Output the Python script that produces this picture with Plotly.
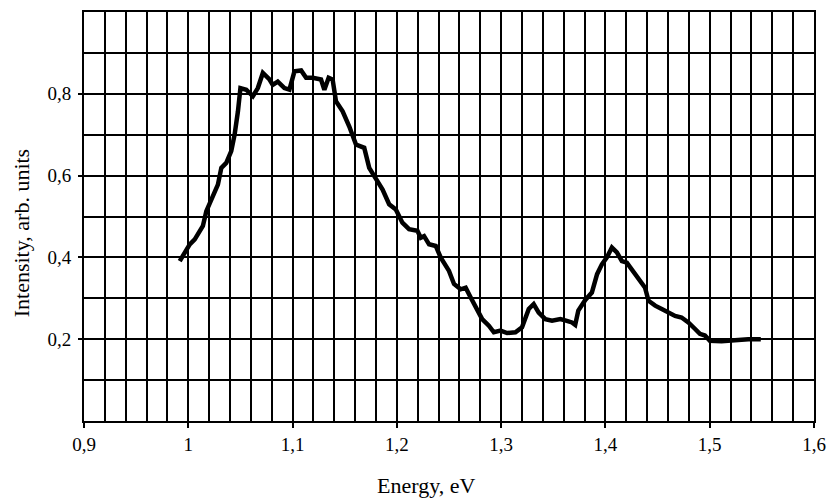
import plotly.graph_objects as go

energy = [0.9918, 1.0014, 1.0062, 1.014, 1.0173, 1.0237, 1.0284, 1.0317, 1.0364, 1.0412,
          1.0444, 1.0476, 1.050, 1.0556, 1.0619, 1.0667, 1.0715, 1.0779, 1.081, 1.0858,
          1.0922, 1.097, 1.1018, 1.1082, 1.113, 1.1193, 1.1273, 1.1305, 1.1346, 1.1384,
          1.1416, 1.148, 1.1544, 1.1608, 1.1687, 1.1735, 1.1799, 1.1863, 1.1926, 1.199,
          1.2053, 1.2117, 1.2197, 1.2229, 1.2261, 1.2309, 1.2373, 1.242, 1.25, 1.2548,
          1.2612, 1.266, 1.2708, 1.277, 1.2818, 1.2882, 1.293, 1.2994, 1.3057, 1.3137,
          1.32, 1.3265, 1.3312, 1.336, 1.3424, 1.3488, 1.3568, 1.363, 1.3679, 1.371,
          1.374, 1.3807, 1.387, 1.392, 1.3966, 1.4014, 1.4062, 1.411, 1.4158, 1.4205,
          1.427, 1.4333, 1.438, 1.4413, 1.4477, 1.454, 1.4604, 1.4668, 1.473, 1.4795,
          1.486, 1.4906, 1.4954, 1.5002, 1.5113, 1.524, 1.537, 1.549]
intensity = [0.391, 0.432, 0.444, 0.477, 0.513, 0.554, 0.578, 0.619, 0.631, 0.660,
             0.700, 0.757, 0.814, 0.810, 0.794, 0.814, 0.851, 0.835, 0.822, 0.830,
             0.814, 0.810, 0.855, 0.857, 0.839, 0.839, 0.835, 0.810, 0.839, 0.835,
             0.782, 0.757, 0.720, 0.676, 0.668, 0.619, 0.591, 0.566, 0.530, 0.517,
             0.485, 0.469, 0.465, 0.448, 0.452, 0.432, 0.428, 0.400, 0.367, 0.335,
             0.322, 0.326, 0.302, 0.270, 0.249, 0.233, 0.217, 0.221, 0.215, 0.217,
             0.229, 0.274, 0.286, 0.265, 0.249, 0.245, 0.249, 0.245, 0.241, 0.235,
             0.270, 0.296, 0.314, 0.359, 0.383, 0.400, 0.424, 0.412, 0.391, 0.387,
             0.363, 0.343, 0.326, 0.294, 0.282, 0.274, 0.265, 0.257, 0.253, 0.241,
             0.225, 0.213, 0.209, 0.196, 0.195, 0.198, 0.200, 0.200]

x_tickvals = [0.9, 1.0, 1.1, 1.2, 1.3, 1.4, 1.5, 1.6]
x_ticktext = ["0,9", "1", "1,1", "1,2", "1,3", "1,4", "1,5", "1,6"]
y_tickvals = [0.2, 0.4, 0.6, 0.8]
y_ticktext = ["0,2", "0,4", "0,6", "0,8"]

FONT = "Liberation Serif"

fig = go.Figure()
fig.add_trace(go.Scatter(x=energy, y=intensity, mode="lines",
                         line=dict(color="black", width=4.5), showlegend=False))

fig.update_layout(
    width=827, height=500,
    margin=dict(l=84, r=13, t=12, b=79),
    paper_bgcolor="white", plot_bgcolor="white",
    font=dict(family=FONT, size=19, color="black"),
    xaxis=dict(range=[0.9, 1.6], tickvals=x_tickvals, ticktext=x_ticktext,
               showgrid=True, gridcolor="black", gridwidth=1.5,
               minor=dict(dtick=0.02, tick0=0.9, showgrid=True, gridcolor="black", gridwidth=1.5,
                          ticks=""),
               ticks="outside", ticklen=5, tickcolor="black", tickwidth=1.5,
               showline=True, linecolor="black", linewidth=2, mirror=True,
               zeroline=False, fixedrange=True, automargin=False),
    yaxis=dict(range=[0, 1.0], tickvals=y_tickvals, ticktext=y_ticktext,
               showgrid=True, gridcolor="black", gridwidth=1.5,
               minor=dict(dtick=0.1, tick0=0, showgrid=True, gridcolor="black", gridwidth=1.5,
                          ticks=""),
               ticks="outside", ticklen=4, tickcolor="black", tickwidth=1.5,
               ticklabelstandoff=3,
               showline=True, linecolor="black", linewidth=2, mirror=True,
               zeroline=False, fixedrange=True, automargin=False),
    annotations=[
        dict(text="Energy, eV", xref="paper", yref="paper", x=0.468, y=-0.158,
             xanchor="center", yanchor="middle", showarrow=False,
             font=dict(family=FONT, size=22, color="black")),
        dict(text="Intensity, arb. units", xref="paper", yref="paper", x=-0.0863, y=0.459,
             xanchor="center", yanchor="middle", showarrow=False, textangle=-90,
             font=dict(family=FONT, size=22, color="black")),
    ],
)

fig.write_html("out.html")
